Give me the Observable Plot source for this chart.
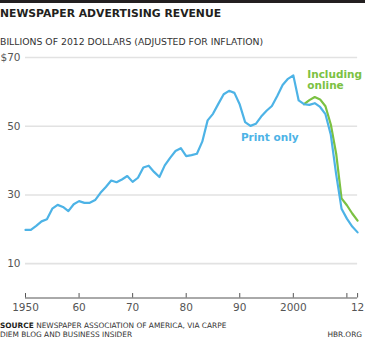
<!DOCTYPE html>
<html>
<head>
<meta charset="utf-8">
<script src="https://cdn.jsdelivr.net/npm/d3@7"></script>
<script src="https://cdn.jsdelivr.net/npm/@observablehq/plot@0.6"></script>
<style>
  html, body { margin: 0; padding: 0; background: #fff; }
  body { width: 365px; height: 353px; position: relative; overflow: hidden; font-family: "DejaVu Sans", sans-serif; color: #231f20; }
  .bar { position: absolute; left: 0; top: 0; width: 365px; height: 3px; background: #231f20; }
  .title { position: absolute; left: 0; top: 9.2px; font-size: 10.8px; line-height: 10.8px; font-weight: bold; white-space: nowrap; }
  .subtitle { position: absolute; left: 0; top: 37.2px; font-size: 9.3px; line-height: 9.3px; white-space: nowrap; color: #333; }
  #chart { position: absolute; left: 0; top: 50px; }
  .foot { position: absolute; left: 0; font-size: 7.4px; line-height: 7.4px; white-space: nowrap; color: #333; }
  .foot b { color: #231f20; }
  .hbr { position: absolute; right: 3px; font-size: 7.4px; line-height: 7.4px; color: #333; }
</style>
</head>
<body>
<div class="bar"></div>
<div class="title">NEWSPAPER ADVERTISING REVENUE</div>
<div class="subtitle">BILLIONS OF 2012 DOLLARS (ADJUSTED FOR INFLATION)</div>
<div id="chart"></div>
<div class="foot" style="top:322px"><b>SOURCE</b> NEWSPAPER ASSOCIATION OF AMERICA, VIA CARPE</div>
<div class="foot" style="top:331px">DIEM BLOG AND BUSINESS INSIDER</div>
<div class="hbr" style="top:331px">HBR.ORG</div>
<script>
const years = d3.range(1950, 2013);
const printOnly = [
  19.8, 19.8, 21.0, 22.3, 22.9, 26.0, 27.1, 26.5, 25.3, 27.3,
  28.2, 27.7, 27.7, 28.5, 30.6, 32.3, 34.2, 33.7, 34.5, 35.5,
  33.8, 35.0, 38.0, 38.5, 36.7, 35.2, 38.6, 40.8, 42.8, 43.6,
  41.3, 41.6, 42.0, 45.5, 51.7, 53.6, 56.5, 59.3, 60.3, 59.7,
  56.3, 51.2, 50.1, 50.7, 52.8, 54.5, 55.9, 58.8, 62.0, 63.8,
  64.8, 57.5, 56.4, 56.2, 56.7, 55.6, 53.5, 47.5, 36.0, 26.0,
  23.1, 20.8, 19.1
];
const onlineYears = d3.range(2002, 2013);
const includingOnline = [56.4, 57.6, 58.5, 57.8, 55.8, 50.5, 42.0, 29.0, 27.0, 24.6, 22.5];

const yTicks = [10, 30, 50, 70];
const xTicks = [1950, 1960, 1970, 1980, 1990, 2000, 2010, 2012];
const xTickLabels = ["1950", "60", "70", "80", "90", "2000", "", "12"];

const printLabel = [{year: 1995.6, value: 46.6, text: "Print only"}];
const onlineLabel = [{year: 2002.6, value: 66.2, text: "Including\nonline"}];

const printData = years.map((y, i) => ({year: y, value: printOnly[i]}));
const onlineData = onlineYears.map((y, i) => ({year: y, value: includingOnline[i]}));

const blue = "#4db3e6";
const green = "#7bc142";

const chart = Plot.plot({
  width: 365,
  height: 268,
  marginTop: 7,
  marginBottom: 20.5,
  marginLeft: 25,
  marginRight: 7.9,
  style: {fontFamily: "DejaVu Sans", fontSize: "10.5px", color: "#555", background: "transparent"},
  x: {domain: [1950, 2012]},
  y: {domain: [0, 70]},
  marks: [
    Plot.ruleY(yTicks, {stroke: "#e2e2e2", strokeWidth: 1.6}),
    Plot.ruleY([0], {stroke: "#555", strokeWidth: 1}),
    Plot.ruleX(xTicks, {x: d => d, y1: 0, y2: 1.3, stroke: "#555", strokeWidth: 1}),
    Plot.axisY({ticks: yTicks, tickSize: 0, tickPadding: 5, tickFormat: d => d === 70 ? "$70" : String(d), label: null}),
    Plot.axisX({ticks: xTicks, tickSize: 0, tickPadding: 6, tickFormat: d => xTickLabels[xTicks.indexOf(d)], label: null}),
    Plot.line(onlineData, {x: "year", y: "value", stroke: green, strokeWidth: 2.2}),
    Plot.line(printData, {x: "year", y: "value", stroke: blue, strokeWidth: 2.2}),
    Plot.text(printLabel, {x: "year", y: "value", text: "text", fill: blue, fontWeight: "bold", fontSize: 10.5, textAnchor: "middle"}),
    Plot.text(onlineLabel, {x: "year", y: "value", text: "text", fill: green, fontWeight: "bold", fontSize: 10.5, textAnchor: "start", lineAnchor: "top", lineHeight: 1.05})
  ]
});
document.getElementById("chart").appendChild(chart);
</script>
</body>
</html>
